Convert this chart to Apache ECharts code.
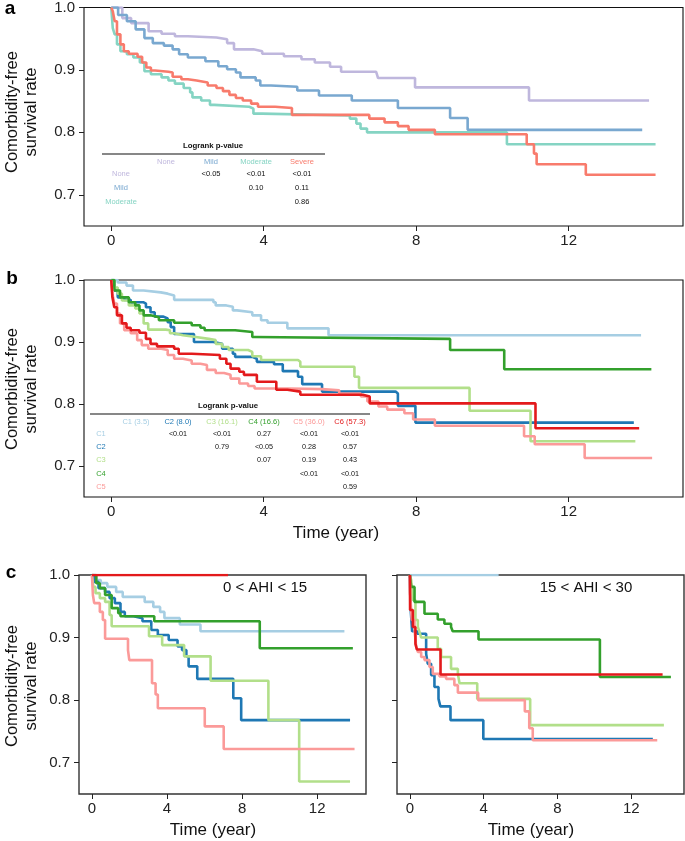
<!DOCTYPE html>
<html><head><meta charset="utf-8">
<script src="https://cdn.jsdelivr.net/npm/echarts@6/dist/echarts.min.js"></script>
<style>html,body{margin:0;padding:0;background:#fff}#c{width:685px;height:841px}</style>
</head><body><div id="c"></div>
<script>
// ---------- data (time in years, survival rate) ----------
const xTicks = [0, 4, 8, 12];
const yTicks = [0.7, 0.8, 0.9, 1.0];

// panel a : OSA severity
const aNames = ['None', 'Mild', 'Moderate', 'Severe'];
const aNone = [[0,1],[0.29,0.983],[0.52,0.975],[0.98,0.962],[1.32,0.958],[1.67,0.954],[2.01,0.952],[2.76,0.949],[3.04,0.943],[3.22,0.933],[3.73,0.930],[3.96,0.926],[4.53,0.922],[4.99,0.917],[5.34,0.912],[5.74,0.905],[6.03,0.897],[6.95,0.894],[7.0,0.887],[7.97,0.872],[10.96,0.851],[14.11,0.851]];
const aMild = [[0,1],[0.18,0.988],[0.41,0.978],[0.64,0.965],[0.87,0.951],[1.09,0.943],[1.38,0.939],[1.61,0.933],[1.78,0.925],[2.01,0.920],[2.47,0.914],[2.81,0.906],[3.04,0.901],[3.27,0.896],[3.39,0.888],[3.79,0.883],[3.91,0.875],[4.19,0.873],[4.88,0.867],[5.45,0.859],[6.31,0.851],[7.52,0.839],[8.89,0.823],[9.35,0.804],[13.93,0.804]];
const aModerate = [[0,1],[0.04,0.967],[0.09,0.957],[0.15,0.941],[0.24,0.930],[0.41,0.925],[0.58,0.920],[0.75,0.912],[0.87,0.898],[1.04,0.893],[1.32,0.888],[1.50,0.883],[1.67,0.878],[1.90,0.871],[2.07,0.864],[2.13,0.856],[2.36,0.851],[2.59,0.844],[2.70,0.841],[3.62,0.838],[3.73,0.830],[3.96,0.827],[6.26,0.822],[6.43,0.814],[6.54,0.806],[6.71,0.800],[10.38,0.781],[14.28,0.781]];
const aSevere = [[0,1],[0.04,0.994],[0.09,0.978],[0.15,0.957],[0.24,0.941],[0.33,0.930],[0.46,0.926],[0.69,0.921],[0.81,0.912],[0.92,0.904],[1.04,0.899],[1.15,0.897],[1.50,0.896],[1.61,0.889],[1.84,0.885],[2.01,0.883],[2.24,0.880],[2.53,0.875],[2.76,0.871],[2.93,0.866],[3.10,0.860],[3.27,0.855],[3.45,0.851],[3.67,0.846],[3.85,0.841],[4.30,0.839],[4.74,0.828],[6.77,0.822],[7.17,0.816],[7.52,0.810],[7.80,0.804],[8.49,0.797],[10.90,0.781],[11.09,0.766],[11.16,0.749],[12.45,0.732],[14.28,0.732]];

// panel b : clusters
const bNames = ['C1 (3.5)', 'C2 (8.0)', 'C3 (16.1)', 'C4 (16.6)', 'C5 (36.0)', 'C6 (57.3)'];
const bC1 = [[0,1],[0.17,0.996],[0.40,0.991],[0.57,0.983],[0.85,0.980],[1.30,0.978],[1.48,0.975],[1.65,0.968],[2.68,0.964],[2.74,0.959],[3.02,0.957],[3.19,0.951],[3.30,0.948],[3.70,0.943],[3.93,0.935],[4.10,0.931],[4.62,0.922],[5.70,0.911],[13.9,0.911]];
const bC2 = [[0,1],[0.08,0.983],[0.17,0.972],[0.34,0.968],[0.51,0.964],[0.85,0.962],[0.91,0.956],[1.03,0.948],[1.14,0.941],[1.37,0.938],[1.48,0.932],[1.56,0.924],[1.65,0.913],[2.17,0.900],[2.68,0.897],[2.91,0.889],[3.19,0.881],[3.25,0.876],[3.70,0.873],[3.82,0.868],[4.27,0.864],[4.50,0.853],[4.90,0.844],[5.01,0.832],[5.53,0.820],[7.46,0.817],[7.52,0.797],[7.98,0.770],[13.71,0.770]];
const bC3 = [[0,1],[0.08,0.988],[0.17,0.978],[0.28,0.967],[0.46,0.959],[0.63,0.954],[0.74,0.946],[0.85,0.930],[0.97,0.920],[1.43,0.919],[1.54,0.914],[1.65,0.911],[1.88,0.908],[2.22,0.905],[2.56,0.903],[2.74,0.897],[2.91,0.892],[3.08,0.887],[3.59,0.884],[3.70,0.877],[3.93,0.871],[4.90,0.868],[4.96,0.860],[6.38,0.844],[6.50,0.826],[9.40,0.789],[11.0,0.740],[13.75,0.740]];
const bC4 = [[0,1],[0.08,0.983],[0.23,0.972],[0.46,0.964],[0.63,0.959],[0.74,0.951],[0.85,0.943],[1.03,0.940],[1.25,0.935],[1.65,0.931],[2.11,0.927],[2.34,0.923],[2.45,0.919],[3.25,0.916],[3.70,0.908],[3.76,0.905],[8.89,0.887],[10.31,0.856],[14.17,0.856]];
const bC5 = [[0,1],[0.03,0.978],[0.08,0.962],[0.15,0.946],[0.23,0.930],[0.34,0.919],[0.51,0.914],[0.68,0.903],[0.80,0.895],[0.97,0.889],[1.31,0.887],[1.48,0.879],[1.65,0.873],[1.88,0.870],[2.11,0.865],[2.34,0.863],[2.51,0.855],[2.74,0.850],[2.96,0.847],[3.13,0.841],[3.36,0.833],[3.59,0.829],[3.76,0.825],[4.62,0.824],[5.53,0.822],[5.98,0.817],[6.55,0.812],[6.72,0.804],[7.01,0.796],[7.24,0.791],[7.69,0.785],[7.92,0.775],[8.49,0.765],[10.83,0.748],[11.11,0.735],[12.42,0.713],[14.19,0.713]];
const bC6 = [[0,1],[0.03,0.972],[0.08,0.956],[0.15,0.943],[0.28,0.930],[0.40,0.923],[0.51,0.919],[0.74,0.915],[0.91,0.905],[1.03,0.897],[1.20,0.893],[1.65,0.889],[1.77,0.881],[2.11,0.879],[2.85,0.873],[3.02,0.865],[3.13,0.857],[3.36,0.852],[3.48,0.847],[3.82,0.836],[4.33,0.823],[4.62,0.820],[4.96,0.815],[6.60,0.812],[6.78,0.801],[11.13,0.761],[13.85,0.761]];

// panel c left : 0 < AHI < 15
const cL1 = [[0,1],[0.23,0.992],[0.47,0.987],[0.82,0.981],[1.29,0.973],[1.64,0.965],[2.81,0.957],[3.27,0.949],[3.63,0.941],[3.86,0.931],[4.68,0.921],[5.78,0.910],[13.45,0.910]];
const cL2 = [[0,1],[0.12,0.989],[0.35,0.979],[0.70,0.973],[0.94,0.963],[1.22,0.955],[1.52,0.941],[1.75,0.934],[2.22,0.931],[2.69,0.926],[3.16,0.912],[3.51,0.904],[4.09,0.896],[4.56,0.886],[4.80,0.880],[5.03,0.870],[5.15,0.854],[5.61,0.834],[7.53,0.803],[7.95,0.768],[13.75,0.768]];
const cL3 = [[0,1],[0.07,0.981],[0.19,0.971],[0.42,0.963],[0.70,0.957],[0.94,0.936],[1.05,0.918],[3.04,0.902],[3.74,0.888],[4.91,0.870],[6.32,0.831],[9.40,0.768],[11.04,0.670],[13.75,0.670]];
const cL4 = [[0,1],[0.23,0.987],[0.42,0.979],[0.70,0.968],[1.05,0.947],[1.40,0.939],[1.52,0.934],[3.32,0.926],[8.94,0.883],[13.9,0.883]];
const cL5 = [[0,1],[0.05,0.968],[0.12,0.955],[0.42,0.941],[0.58,0.928],[0.70,0.898],[1.92,0.880],[1.99,0.864],[3.20,0.827],[3.39,0.809],[3.51,0.787],[6.01,0.758],[7.02,0.722],[13.99,0.722]];
const cL6 = [[0,1],[7.25,1]];

// panel c right : 15 < AHI < 30
const cR1 = [[0,1],[4.81,1]];
const cR2 = [[0,1],[0.03,0.950],[0.12,0.910],[0.40,0.906],[0.88,0.874],[0.97,0.858],[1.15,0.840],[1.33,0.821],[1.55,0.802],[1.65,0.790],[2.20,0.768],[3.98,0.738],[13.17,0.738]];
const cR3 = [[0,1],[0.07,0.992],[0.16,0.960],[0.30,0.928],[0.43,0.917],[0.52,0.909],[0.61,0.900],[1.51,0.882],[1.69,0.869],[2.23,0.850],[2.60,0.842],[2.69,0.827],[3.65,0.802],[6.52,0.760],[13.77,0.760]];
const cR4 = [[0,1],[0.07,0.981],[0.25,0.957],[0.79,0.938],[1.51,0.929],[1.87,0.922],[2.23,0.917],[2.32,0.910],[3.72,0.897],[10.30,0.837],[14.15,0.837]];
const cR5 = [[0,1],[0.01,0.971],[0.10,0.928],[0.25,0.912],[0.34,0.885],[0.43,0.877],[0.61,0.869],[0.79,0.864],[1.06,0.853],[1.24,0.842],[1.60,0.838],[1.96,0.834],[2.41,0.824],[2.60,0.812],[3.70,0.800],[6.23,0.782],[6.47,0.755],[6.66,0.736],[13.41,0.736]];
const cR6 = [[0,1],[0.01,0.944],[0.16,0.917],[0.30,0.890],[0.38,0.881],[1.66,0.841],[13.7,0.841]];

// log-rank tables
const tabARows = ['None', 'Mild', 'Moderate'];
const tabAVals = [['', '<0.05', '<0.01', '<0.01'], ['', '', '0.10', '0.11'], ['', '', '', '0.86']];
const tabBRows = ['C1', 'C2', 'C3', 'C4', 'C5'];
const tabBVals = [
  ['', '<0.01', '<0.01', '0.27', '<0.01', '<0.01'],
  ['', '', '0.79', '<0.05', '0.28', '0.57'],
  ['', '', '', '0.07', '0.19', '0.43'],
  ['', '', '', '', '<0.01', '<0.01'],
  ['', '', '', '', '', '0.59']];

// ---------- styling ----------
const colA = ['#bfb7dd', '#79a8d0', '#85d4c3', '#f87b6c'];
const colB = ['#a6cee3', '#1f78b4', '#b2df8a', '#33a02c', '#fb9a99', '#e31a1c'];
const FONT = 'Liberation Sans, Arial, sans-serif';

const grids = [
  {left: 84, top: 6, width: 599, height: 220},
  {left: 84, top: 280, width: 599, height: 217},
  {left: 79, top: 575, width: 287, height: 219},
  {left: 397, top: 575, width: 287, height: 219}
];
const xRanges = [[-0.715, 15.0], [-0.715, 15.0], [-0.69, 14.6], [-0.70, 14.86]];

function xAx(i) {
  return {type: 'value', gridIndex: i, min: xRanges[i][0], max: xRanges[i][1], position: 'bottom',
    axisLine: {show: false, onZero: false}, splitLine: {show: false},
    axisTick: {show: true, customValues: xTicks, length: 5, lineStyle: {color: '#222', width: 1}},
    axisLabel: {customValues: xTicks, fontSize: 15, color: '#222', fontFamily: FONT, margin: 7}};
}
function yAx(i, labels) {
  return {type: 'value', gridIndex: i, min: 0.65, max: 1.0, position: 'left',
    axisLine: {show: false, onZero: false}, splitLine: {show: false},
    axisTick: {show: true, customValues: yTicks, length: 5, lineStyle: {color: '#222', width: 1}},
    axisLabel: {show: labels, customValues: yTicks, fontSize: 15, color: '#222', fontFamily: FONT, margin: 9,
      formatter: v => v.toFixed(1)}};
}
function km(data, color, gi) {
  return {type: 'line', data: data, step: 'end', xAxisIndex: gi, yAxisIndex: gi,
    showSymbol: false, symbol: 'none', clip: true, animation: false,
    lineStyle: {color: color, width: 2.6}, itemStyle: {color: color}};
}

const series = [];
[aNone, aMild, aModerate, aSevere].forEach((d, k) => series.push(km(d, colA[k], 0)));
[bC1, bC2, bC3, bC4, bC5, bC6].forEach((d, k) => series.push(km(d, colB[k], 1)));
[cL1, cL2, cL3, cL4, cL5, cL6].forEach((d, k) => series.push(km(d, colB[k], 2)));
[cR1, cR2, cR3, cR4, cR5, cR6].forEach((d, k) => series.push(km(d, colB[k], 3)));

// ---------- annotations ----------
const g = [];
function txt(x, y, s, o) {
  o = o || {};
  g.push({type: 'text', x: x, y: y, rotation: o.rot || 0, z: 100,
    style: {text: s, fill: o.color || '#111', font: (o.weight || 'normal') + ' ' + (o.size || 8) + 'px ' + FONT,
      align: o.align || 'center', verticalAlign: 'middle', lineHeight: o.lh || undefined}});
}
function hline(x1, x2, y) {
  g.push({type: 'line', z: 100, shape: {x1: x1, y1: y, x2: x2, y2: y}, style: {stroke: '#111', lineWidth: 1.2}});
}
// panel letters
txt(10, 9, 'a', {size: 19, weight: 'bold', color: '#000'});
txt(12, 279, 'b', {size: 19, weight: 'bold', color: '#000'});
txt(11, 573, 'c', {size: 19, weight: 'bold', color: '#000'});
// y titles
[[112], [389], [686]].forEach(p => txt(22, p[0], 'Comorbidity-free\nsurvival rate', {size: 16.5, rot: Math.PI / 2, color: '#111', lh: 19}));
// x titles
txt(336, 533, 'Time (year)', {size: 17, color: '#111'});
txt(213, 830, 'Time (year)', {size: 17, color: '#111'});
txt(531, 830, 'Time (year)', {size: 17, color: '#111'});
// AHI labels
txt(265, 588, '0 < AHI < 15', {size: 15, color: '#111'});
txt(586, 588, '15 < AHI < 30', {size: 15, color: '#111'});

// table a
const tAcolX = [166, 211, 256, 302], tArowY = [174, 188, 202];
txt(213, 146, 'Logrank p-value', {size: 7.8, weight: 'bold'});
hline(102, 325, 154);
aNames.forEach((n, k) => txt(tAcolX[k], 162, n, {size: 7.5, color: colA[k]}));
tabARows.forEach((n, r) => {
  txt(121, tArowY[r], n, {size: 7.5, color: colA[r]});
  tabAVals[r].forEach((v, c) => { if (v) txt(tAcolX[c], tArowY[r], v, {size: 7.5, color: '#111'}); });
});
// table b
const tBcolX = [136, 178, 222, 264, 309, 350], tBrowY = [434, 447, 460, 474, 487];
txt(228, 406, 'Logrank p-value', {size: 7.8, weight: 'bold'});
hline(90, 370, 414);
bNames.forEach((n, k) => txt(tBcolX[k], 422, n, {size: 7.5, color: colB[k]}));
tabBRows.forEach((n, r) => {
  txt(101, tBrowY[r], n, {size: 7.5, color: colB[r]});
  tabBVals[r].forEach((v, c) => { if (v) txt(tBcolX[c], tBrowY[r], v, {size: 7.2, color: '#111'}); });
});

const chart = echarts.init(document.getElementById('c'), null, {renderer: 'canvas'});
chart.setOption({
  animation: false,
  backgroundColor: '#fff',
  grid: grids.map((q, i) => Object.assign({show: true, borderColor: i >= 2 ? '#333' : '#111', borderWidth: i >= 2 ? 1.4 : 1.1, backgroundColor: 'transparent', containLabel: false}, q)),
  xAxis: [0, 1, 2, 3].map(i => xAx(i)),
  yAxis: [0, 1, 2, 3].map(i => yAx(i, i !== 3)),
  series: series,
  graphic: g
});
</script></body></html>
